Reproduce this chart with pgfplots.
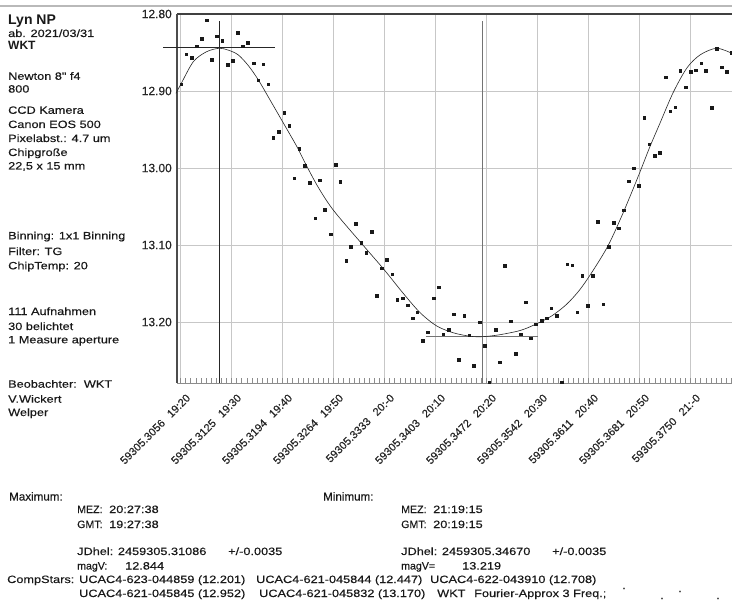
\documentclass[border=0pt]{standalone}
\usepackage{pgfplots}
\pgfplotsset{compat=1.18}
\usepackage{fontspec}
\setmainfont{Liberation Sans}
\newfontfamily\infofont[FakeStretch=1.2,FakeBold=0.25]{Liberation Sans}
\newfontfamily\narrowfont[FakeBold=0.25]{Liberation Sans}
\newcommand\info{\infofont\fontsize{10.6bp}{12bp}\selectfont}
\newcommand\infon{\narrowfont\fontsize{10.6bp}{12bp}\selectfont}
\begin{document}
\begin{tikzpicture}[x=1bp,y=1bp]
\path[use as bounding box] (0,0) rectangle (732,-607);
\fill[white] (0,0) rectangle (732,-607);
\draw[gray!55, line width=1.6bp] (0,-6) -- (732,-6);
\begin{axis}[
  at={(177bp,-14bp)}, anchor=north west,
  scale only axis, width=555bp, height=369bp,
  xmin=-0.69, xmax=108.14,
  ymin=12.80, ymax=13.2792, y dir=reverse,
  clip=false,
  axis line style={draw=none},
  grid=major, major grid style={black!22, line width=0.8bp},
  xtick={0,10,...,100},
  minor xtick={1,2,...,108},
  xtick pos=bottom, ytick pos=left,
  tick align=inside,
  major tick length=5bp, minor tick length=5bp,
  every tick/.style={black!45, line width=0.6bp},
  ytick style={draw=none},
  xticklabels={59305.3056\hspace{8bp}19:20,59305.3125\hspace{8bp}19:30,59305.3194\hspace{8bp}19:40,59305.3264\hspace{8bp}19:50,59305.3333\hspace{8bp}20:-0,59305.3403\hspace{8bp}20:10,59305.3472\hspace{8bp}20:20,59305.3542\hspace{8bp}20:30,59305.3611\hspace{8bp}20:40,59305.3681\hspace{8bp}20:50,59305.3750\hspace{8bp}21:-0},
  xticklabel style={font=\narrowfont\fontsize{11bp}{11bp}\selectfont, text=black!85, anchor=north east, inner sep=0pt, xshift=5bp, yshift=-10bp, rotate=45},
  ytick={12.80,12.90,13.00,13.10,13.20},
  yticklabels={12.80,12.90,13.00,13.10,13.20},
  yticklabel style={font=\narrowfont\fontsize{12bp}{12bp}\selectfont, text=black!85, anchor=east, inner sep=0pt, xshift=-5bp},
]
% frame
\addplot[black!75, line width=1.3bp, forget plot] coordinates {(-0.69,12.80) (108.14,12.80)};
\addplot[black!70, line width=1.1bp, forget plot] coordinates {(-0.69,12.80) (-0.69,13.2792)};
\addplot[black!45, line width=0.9bp, forget plot] coordinates {(-0.69,13.2792) (108.14,13.2792)};
% maximum and minimum markers
\addplot[black!85, line width=0.9bp] coordinates {(7.63,12.8091) (7.63,13.2792)};
\addplot[black!85, line width=0.9bp] coordinates {(-3.4,12.844) (18.5,12.844)};
\addplot[black!55, line width=1.3bp] coordinates {(59.25,12.8091) (59.25,13.2792)};
\addplot[black!55, line width=1.0bp] coordinates {(48.1,13.219) (70.0,13.219)};
% Fourier fit
\addplot[smooth, black!85, line width=0.6bp] coordinates {
(-0.9,12.903) (0,12.892) (2.5,12.862) (5.1,12.849) (7.6,12.8445) (9.4,12.847)
(11.3,12.853) (13.3,12.867) (15.3,12.886) (17.5,12.911) (20.2,12.942) (22.8,12.972)
(24.4,12.993) (27.0,13.025) (30.0,13.055) (35.5,13.098) (39.8,13.131) (43.7,13.163)
(47.0,13.188) (50.2,13.205) (53.5,13.214) (56.8,13.2185) (59.3,13.219) (62.6,13.2165)
(66.6,13.211) (69.6,13.203) (72.8,13.192) (75.7,13.177) (78.3,13.158) (80.9,13.133)
(83.9,13.100) (86.8,13.058) (89.8,13.010) (92.0,12.973) (94.0,12.942) (96.6,12.902)
(99.3,12.870) (101.9,12.853) (105.1,12.8445) (108.1,12.851)
};
% observations
\addplot[only marks, mark=square*, mark size=1.3bp, black!90] coordinates {
(0.1,12.891) (1.1,12.852) (2.2,12.857) (3.2,12.842) (4.2,12.832) (5.1,12.808)
(6.1,12.859) (7.1,12.829) (8.2,12.835) (9.2,12.866) (10.2,12.861) (11.2,12.824)
(12.2,12.842) (13.2,12.837) (14.3,12.864) (15.2,12.886) (16.2,12.865) (17.2,12.891)
(18.2,12.961) (19.2,12.953) (20.3,12.928) (21.3,12.945) (22.3,13.013) (23.3,12.975)
(24.4,12.997) (25.3,13.019) (26.4,13.065) (27.3,13.016) (28.3,13.054) (29.5,13.086)
(30.4,12.996) (31.3,13.018) (32.5,13.120) (33.4,13.102) (34.4,13.072) (35.4,13.097)
(36.4,13.110) (37.5,13.083) (38.5,13.166) (39.4,13.130) (40.4,13.119) (41.5,13.138)
(42.5,13.171) (43.6,13.169) (44.5,13.178) (45.5,13.195) (46.4,13.187) (47.5,13.224)
(48.5,13.213) (49.6,13.169) (50.6,13.155) (51.5,13.216) (52.6,13.210) (53.6,13.190)
(54.6,13.249) (55.6,13.192) (56.6,13.217) (57.5,13.257) (58.7,13.200) (59.7,13.231)
(60.5,13.278) (61.8,13.210) (62.6,13.252) (63.6,13.127) (64.7,13.199) (65.7,13.241)
(66.7,13.216) (67.7,13.174) (68.7,13.221) (69.7,13.203) (70.8,13.198) (71.8,13.195)
(72.7,13.182) (73.8,13.192) (74.8,13.278) (75.8,13.125) (76.8,13.126) (77.8,13.187)
(78.8,13.140) (79.8,13.179) (80.8,13.140) (81.8,13.070) (82.9,13.177) (83.9,13.102)
(84.9,13.071) (85.9,13.078) (86.9,13.055) (87.9,13.017) (88.9,13.000) (89.9,13.023)
(90.9,12.935) (91.9,12.969) (93.0,12.984) (94.0,12.980) (95.1,12.882) (96.0,12.926)
(97.0,12.921) (98.0,12.874) (99.0,12.895) (100.0,12.875) (101.0,12.873) (102.1,12.864)
(103.0,12.874) (104.2,12.922) (105.1,12.845) (106.1,12.869) (107.1,12.875) (108.1,12.850)
};
\end{axis}
% left information block
\begin{scope}[every node/.style={anchor=base west, inner sep=0pt, text=black!90}]
\node at (8,-25) {\bfseries\fontsize{14bp}{14bp}\selectfont Lyn NP};
\node at (8,-37) {\info ab. 2021/03/31};
\node at (8,-49.3) {\bfseries\fontsize{12bp}{12bp}\selectfont WKT};
\node at (8,-79.8) {\info Newton 8" f4};
\node at (8,-92.6) {\info 800};
\node at (8,-113.8) {\info CCD Kamera};
\node at (8,-128) {\info Canon EOS 500};
\node at (8,-142) {\info Pixelabst.: 4.7 um};
\node at (8,-156) {\info Chipgroße};
\node at (8,-169.5) {\info 22,5 x 15 mm};
\node at (8,-239.3) {\info Binning: 1x1 Binning};
\node at (8,-255) {\info Filter: TG};
\node at (8,-269.3) {\info ChipTemp: 20};
\node at (8,-315) {\info 111 Aufnahmen};
\node at (8,-330) {\info 30 belichtet};
\node at (8,-343.3) {\info 1 Measure aperture};
\node at (8,-387.7) {\info Beobachter:\ \ WKT};
\node at (8,-402.7) {\info V.Wickert};
\node at (8,-416) {\info Welper};
% bottom block
\node at (9,-500.5) {\narrowfont\fontsize{11.6bp}{12bp}\selectfont Maximum:};
\node at (323,-500.5) {\narrowfont\fontsize{11.6bp}{12bp}\selectfont Minimum:};
\node at (77,-513) {\infon MEZ:};
\node at (109,-513) {\info 20:27:38};
\node at (77,-528) {\infon GMT:};
\node at (109,-528) {\info 19:27:38};
\node at (401,-513) {\infon MEZ:};
\node at (433,-513) {\info 21:19:15};
\node at (401,-528) {\infon GMT:};
\node at (433,-528) {\info 20:19:15};
\node at (77,-555) {\info JDhel: 2459305.31086};
\node at (228,-555) {\info +/-0.0035};
\node at (77,-569.5) {\infon magV:};
\node at (125,-569.5) {\info 12.844};
\node at (401,-555) {\info JDhel: 2459305.34670};
\node at (552,-555) {\info +/-0.0035};
\node at (401,-569.5) {\infon magV=};
\node at (462,-569.5) {\info 13.219};
\node at (7,-583) {\info CompStars:};
\node at (79,-583) {\info UCAC4-623-044859 (12.201)};
\node at (256,-583) {\info UCAC4-621-045844 (12.447)};
\node at (430,-583) {\info UCAC4-622-043910 (12.708)};
\node at (79,-597) {\info UCAC4-621-045845 (12.952)};
\node at (259,-597) {\info UCAC4-621-045832 (13.170)};
\node at (437,-597) {\info WKT};
\node at (474,-597) {\info Fourier-Approx 3 Freq.;};
\node at (622,-589) {\info .};
\node at (660,-599) {\info .};
\node at (678,-592) {\info .};
\node at (716,-599) {\info .};
\end{scope}
\end{tikzpicture}
\end{document}
